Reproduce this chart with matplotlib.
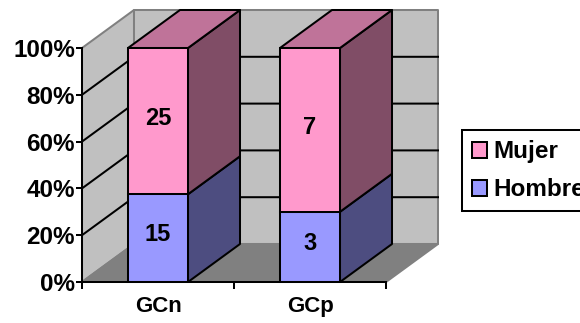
import matplotlib
matplotlib.use("Agg")
import matplotlib.pyplot as plt
from matplotlib.patches import Polygon, Patch

plt.rcParams['font.family'] = ['Liberation Sans', 'DejaVu Sans']
plt.rcParams['font.weight'] = 'bold'

categories = ["GCn", "GCp"]
hombre = [15, 3]
mujer = [25, 7]
pct_ticks = [0, 20, 40, 60, 80, 100]

pink = "#ff99cc"
pink_side = "#804d66"
pink_top = "#bf7399"
blue = "#9999ff"
blue_side = "#4d4d80"
wall = "#c0c0c0"
floor_c = "#808080"

W, H = 580, 323
LW = 1.45

fig = plt.figure(figsize=(W / 100, H / 100), dpi=100, facecolor="white")
ax = fig.add_axes([82 / W, (H - 282) / H, 304 / W, 234 / H])
ax.set_xlim(0, 2)
ax.set_ylim(0, 100)
ax.patch.set_visible(False)

# depth of the fake 3d box, in data units
dx = 52 / 152
dy = 38 / 234 * 100
bar_w = 60 / 152


def poly(pts, fc, ec, z, lw=LW):
    ax.add_patch(Polygon(pts, closed=True, fc=fc, ec=ec, lw=lw, zorder=z,
                         clip_on=False, joinstyle="round"))


# walls and floor
poly([(0, 0), (dx, dy), (dx, 100 + dy), (0, 100)], wall, floor_c, 1)
poly([(dx, dy), (2 + dx, dy), (2 + dx, 100 + dy), (dx, 100 + dy)], wall, floor_c, 1)
poly([(0, 0), (2, 0), (2 + dx, dy), (dx, dy)], floor_c, floor_c, 1)

# gridlines run along the left wall then the back wall
for p in pct_ticks[1:-1]:
    ax.plot([0, dx, 2 + dx], [p, p + dy, p + dy], color="black", lw=LW,
            zorder=2, clip_on=False)

for i, name in enumerate(categories):
    total = hombre[i] + mujer[i]
    h = hombre[i] / total * 100
    m = mujer[i] / total * 100
    c = i + 0.5
    l, r = c - bar_w / 2, c + bar_w / 2

    # side faces and top
    poly([(r, 0), (r + dx, dy), (r + dx, h + dy), (r, h)], blue_side, "black", 3)
    poly([(r, h), (r + dx, h + dy), (r + dx, 100 + dy), (r, 100)], pink_side, "black", 3)
    poly([(l, 100), (r, 100), (r + dx, 100 + dy), (l + dx, 100 + dy)], pink_top, "black", 3)

    # front faces
    ax.bar(c, h, bar_w, color=blue, edgecolor="black", lw=LW, zorder=4, clip_on=False)
    ax.bar(c, m, bar_w, bottom=h, color=pink, edgecolor="black", lw=LW, zorder=4, clip_on=False)

    ax.text(c, h / 2 + 1.5, str(hombre[i]), ha="center", va="center", fontsize=17,
            fontweight="bold", zorder=5)
    ax.text(c, h + m / 2 + 1.2, str(mujer[i]), ha="center", va="center", fontsize=17,
            fontweight="bold", zorder=5)

for s in ["top", "right"]:
    ax.spines[s].set_visible(False)
for s in ["left", "bottom"]:
    ax.spines[s].set_linewidth(LW)
    ax.spines[s].set_zorder(6)

ax.set_yticks(pct_ticks)
ax.set_yticklabels(["%d%%" % p for p in pct_ticks], fontsize=17.5, fontweight="bold")
ax.tick_params(axis="y", length=4, width=LW, pad=1)
ax.set_xticks([0, 1, 2])
ax.set_xticklabels([])
ax.set_xticks([0.5, 1.5], minor=True)
ax.set_xticklabels(categories, minor=True, fontsize=16, fontweight="bold")
ax.tick_params(axis="x", which="major", length=5, width=LW)
ax.tick_params(axis="x", which="minor", length=0, pad=10)

handles = [Patch(fc=pink, ec="black", lw=LW), Patch(fc=blue, ec="black", lw=LW)]
leg = fig.legend(handles, ["Mujer", "Hombre"], loc="upper left",
                 bbox_to_anchor=(461.5 / W, (H - 130) / H), borderaxespad=0,
                 prop={"size": 17.5, "weight": "bold"}, fancybox=False,
                 edgecolor="black", framealpha=1, handlelength=0.62, handleheight=0.62,
                 handletextpad=0.28, labelspacing=0.62, borderpad=0.42)
leg.get_frame().set_linewidth(LW)

fig.savefig("out.png", dpi=100)
